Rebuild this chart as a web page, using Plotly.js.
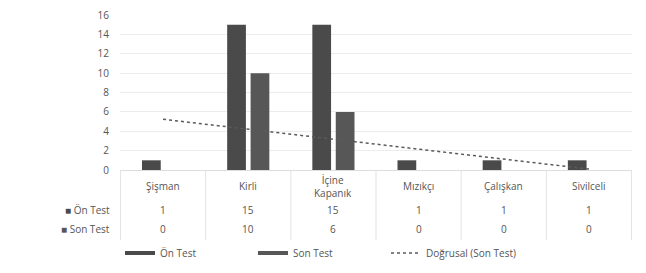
<!DOCTYPE html>
<html>
<head>
<meta charset="utf-8">
<script src="https://cdn.plot.ly/plotly-3.0.1.min.js"></script>
<style>html,body{margin:0;padding:0;background:#fff;}#chart{width:646px;height:273px;}</style>
</head>
<body>
<div id="chart"></div>
<script>
// Data
const categories = ["Şişman", "Kirli", "İçine<br>Kapanık", "Mızıkçı", "Çalışkan", "Sivilceli"];
const onTest = [1, 15, 15, 1, 1, 1];
const sonTest = [0, 10, 6, 0, 0, 0];
const seriesNames = ["Ön Test", "Son Test"];
const trendName = "Doğrusal (Son Test)";

// Linear trendline (least squares) of Son Test
const n = sonTest.length;
const xs = sonTest.map((_, i) => i + 1);
const mx = xs.reduce((a, b) => a + b, 0) / n;
const my = sonTest.reduce((a, b) => a + b, 0) / n;
let sxy = 0, sxx = 0;
for (let i = 0; i < n; i++) { sxy += (xs[i] - mx) * (sonTest[i] - my); sxx += (xs[i] - mx) ** 2; }
const slope = sxy / sxx;
const trend = xs.map(x => my + slope * (x - mx));

const FONT = "Open Sans, Liberation Sans, sans-serif";
const TXT = "#555555";
const BAR1 = "#4a4a4a";
const BAR2 = "#575757";

const traces = [
  { type: "bar", x: categories, y: onTest, name: seriesNames[0], marker: { color: BAR1 }, showlegend: false, hoverinfo: "skip" },
  { type: "bar", x: categories, y: sonTest, name: seriesNames[1], marker: { color: BAR2 }, showlegend: false, hoverinfo: "skip" },
  { type: "scatter", mode: "lines", x: categories, y: trend, name: trendName, line: { color: "#5a5a5a", width: 1.5, dash: "dot" }, showlegend: false, hoverinfo: "skip" },
  // legend entries
  { type: "scatter", mode: "lines", x: [null], y: [null], name: seriesNames[0], line: { color: BAR1, width: 4 } },
  { type: "scatter", mode: "lines", x: [null], y: [null], name: seriesNames[1], line: { color: BAR2, width: 4 } },
  { type: "scatter", mode: "lines", x: [null], y: [null], name: trendName, line: { color: "#5a5a5a", width: 1.5, dash: "dot" } }
];

// Data table (annotations + separators)
const plotH = 273 - 15 - 103;
const py = px => (170 - px) / plotH; // paper y from pixel row
const annotations = [];
const shapes = [];
const cell = (x, ypx, text) => ({ xref: "x", yref: "paper", x: x, y: py(ypx), text: text, showarrow: false, yanchor: "middle", font: { family: FONT, size: 10, color: TXT } });
categories.forEach((c, i) => {
  annotations.push(cell(c, 186, c));
  annotations.push(cell(c, 210, String(onTest[i])));
  annotations.push(cell(c, 229, String(sonTest[i])));
});
for (let i = 0; i <= categories.length; i++) {
  shapes.push({ type: "line", xref: "x", yref: "paper", x0: i - 0.5, x1: i - 0.5, y0: 0, y1: py(240), line: { color: "#e3e3e3", width: 1 } });
}
annotations.push({ xref: "paper", yref: "paper", x: 0, xshift: -8, y: py(210), xanchor: "right", yanchor: "middle", showarrow: false,
  text: '<span style="color:' + BAR1 + '">■</span> ' + seriesNames[0], font: { family: FONT, size: 10, color: TXT } });
annotations.push({ xref: "paper", yref: "paper", x: 0, xshift: -8, y: py(229), xanchor: "right", yanchor: "middle", showarrow: false,
  text: '<span style="color:' + BAR2 + '">■</span> ' + seriesNames[1], font: { family: FONT, size: 10, color: TXT } });

const layout = {
  width: 646, height: 273,
  margin: { l: 120, r: 14, t: 15, b: 103 },
  paper_bgcolor: "#fff", plot_bgcolor: "#fff",
  barmode: "group", bargap: 0.45, bargroupgap: 0.2,
  font: { family: FONT, size: 10, color: TXT },
  xaxis: { type: "category", showticklabels: false, showgrid: false, showline: true, linecolor: "#dcdcdc", linewidth: 1, ticks: "", fixedrange: true, automargin: false },
  yaxis: { range: [0, 16], dtick: 2, showgrid: true, gridcolor: "#ececec", zeroline: false, showline: false, ticks: "",
    tickfont: { family: FONT, size: 10, color: TXT }, ticklabelstandoff: 10, fixedrange: true, automargin: false },
  legend: { orientation: "h", xref: "container", yref: "container", x: 120 / 646, xanchor: "left", y: 1 - 253 / 273, yanchor: "middle",
    font: { family: FONT, size: 10, color: TXT }, entrywidth: 88, entrywidthmode: "pixels", bgcolor: "rgba(0,0,0,0)" },
  annotations: annotations,
  shapes: shapes,
  showlegend: true
};

Plotly.newPlot("chart", traces, layout, { displayModeBar: false, staticPlot: true });
</script>
</body>
</html>
